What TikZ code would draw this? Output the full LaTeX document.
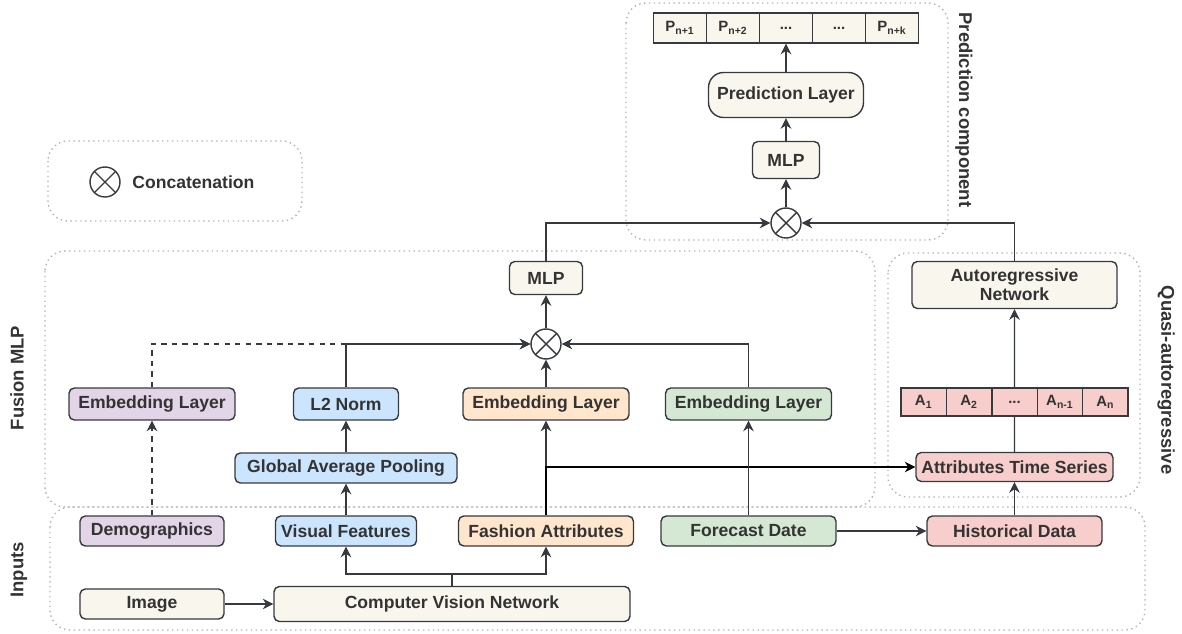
\documentclass[tikz,border=0pt]{standalone}
\usepackage{fontspec}
\setmainfont{Liberation Sans}
\usetikzlibrary{arrows.meta,positioning}

\definecolor{txtgray}{HTML}{333333}
\definecolor{edgegray}{HTML}{36393D}
\definecolor{framegray}{HTML}{B3B3B3}
\definecolor{creamfill}{HTML}{F9F7ED}
\definecolor{purplefill}{HTML}{E1D5E7}
\definecolor{bluefill}{HTML}{CCE5FF}
\definecolor{orangefill}{HTML}{FFE6CC}
\definecolor{greenfill}{HTML}{D5E8D4}
\definecolor{redfill}{HTML}{F8CECC}

\newcommand{\celldots}{...}

\tikzset{
  box/.style={draw=edgegray, line width=0.8pt, rounded corners=3pt, inner sep=0pt,
    font=\fontsize{10}{12}\selectfont\bfseries, text=txtgray, align=center},
  cell/.style={draw=edgegray, line width=0.8pt, inner sep=0pt, minimum height=0.6cm,
    font=\fontsize{8.5}{10}\selectfont\bfseries, text=txtgray},
  concat/.style={circle, draw=edgegray, line width=0.8pt, fill=white, minimum size=0.6cm, inner sep=0pt,
    path picture={\draw[edgegray, line width=0.8pt]
      (path picture bounding box.south west) -- (path picture bounding box.north east)
      (path picture bounding box.north west) -- (path picture bounding box.south east);}},
  group/.style={draw=framegray, line width=0.8pt, dotted, rounded corners=0.4cm},
  grouplabel/.style={font=\fontsize{10.5}{12}\selectfont\bfseries, text=txtgray},
  arr/.style={draw=edgegray, line width=0.8pt, -{Stealth[length=6pt,width=6pt]}},
  wire/.style={draw=edgegray, line width=0.8pt},
}

\begin{document}
\begin{tikzpicture}[x=0.02cm, y=-0.02cm]
  \useasboundingbox (0,0) rectangle (1182,634);

  % groups
  \draw[group] (626,3) rectangle (948,240);
  \draw[group] (48,141) rectangle (302,221);
  \draw[group] (45,251) rectangle (875,507);
  \draw[group] (888,253) rectangle (1140,497);
  \draw[group] (50,507) rectangle (1145,630);

  \node[grouplabel, rotate=-90] (predlbl)  at (964,110) {Prediction component};
  \node[grouplabel, rotate=90]  (fuslbl)   at (17,378)  {Fusion MLP};
  \node[grouplabel, rotate=-90] (quasilbl) at (1166,380) {Quasi-autoregressive};
  \node[grouplabel, rotate=90]  (inplbl)   at (19,570)  {Inputs};

  % legend
  \node[concat] (legcat) at (105,182) {};
  \node[box, draw=none, right=0.22cm of legcat] (legtxt) {Concatenation};

  % prediction component
  \foreach \i/\t in {1/P\textsubscript{n+1}, 2/P\textsubscript{n+2}, 3/\celldots, 4/\celldots, 5/P\textsubscript{n+k}}
    \node[cell, fill=creamfill, minimum width=1.06cm] (p\i) at (653.5+53*\i-26.5,28) {\t};
  \node[box, fill=creamfill, rounded corners=0.3cm, minimum width=3.1cm, minimum height=0.9cm] (predlayer) at (786,95) {Prediction Layer};
  \node[box, fill=creamfill, minimum width=1.34cm, minimum height=0.74cm] (mlptop) at (786,160) {MLP};
  \node[concat] (cattop) at (786,223) {};

  % fusion MLP
  \node[box, fill=creamfill, minimum width=1.46cm, minimum height=0.66cm] (mlpfus) at (546,278) {MLP};
  \node[concat] (catfus) at (546,344) {};
  \node[box, fill=purplefill, minimum width=3.32cm, minimum height=0.64cm] (embdemo) at (152,404) {Embedding Layer};
  \node[box, fill=bluefill, minimum width=2.1cm, minimum height=0.64cm] (l2) at (346,404) {L2 Norm};
  \node[box, fill=orangefill, minimum width=3.32cm, minimum height=0.64cm] (embfash) at (546,404) {Embedding Layer};
  \node[box, fill=greenfill, minimum width=3.32cm, minimum height=0.64cm] (embdate) at (748.5,404) {Embedding Layer};
  \node[box, fill=bluefill, minimum width=4.44cm, minimum height=0.6cm] (gap) at (346,468) {Global Average Pooling};

  % quasi-autoregressive
  \node[box, fill=creamfill, minimum width=4.1cm, minimum height=0.94cm] (arnet) at (1014.5,285) {Autoregressive\\[-1pt]Network};
  \foreach \i/\t in {1/A\textsubscript{1}, 2/A\textsubscript{2}, 3/\celldots, 4/A\textsubscript{n-1}, 5/A\textsubscript{n}}
    \node[cell, fill=redfill, minimum width=0.908cm, minimum height=0.56cm] (a\i) at (901+45.4*\i-22.7,402) {\t};
  \node[box, fill=redfill, minimum width=3.94cm, minimum height=0.58cm] (ats) at (1014.5,467) {Attributes Time Series};

  % inputs
  \node[box, fill=purplefill, minimum width=2.88cm, minimum height=0.6cm] (demo) at (152,531) {Demographics};
  \node[box, fill=bluefill, minimum width=2.82cm, minimum height=0.6cm] (visual) at (346,531) {Visual Features};
  \node[box, fill=orangefill, minimum width=3.5cm, minimum height=0.6cm] (fashion) at (546,531) {Fashion Attributes};
  \node[box, fill=greenfill, minimum width=3.5cm, minimum height=0.6cm] (date) at (748.5,531) {Forecast Date};
  \node[box, fill=redfill, minimum width=3.5cm, minimum height=0.6cm] (hist) at (1014.5,531) {Historical Data};
  \node[box, fill=creamfill, minimum width=2.88cm, minimum height=0.6cm] (image) at (152,604) {Image};
  \node[box, fill=creamfill, minimum width=7.12cm, minimum height=0.7cm] (cvn) at (452,604) {Computer Vision Network};
  \coordinate (split) at (452,574);

  % connectors
  \draw[arr] (image) -- (cvn);
  \draw[wire] (cvn.north) -- (split);
  \draw[arr] (split) -| (visual.south);
  \draw[arr] (split) -| (fashion.south);
  \draw[arr, dashed] (demo) -- (embdemo);
  \draw[arr] (visual) -- (gap);
  \draw[arr] (gap) -- (l2);
  \draw[arr] (fashion) -- (embfash);
  \draw[arr, draw=black] (fashion.north) |- (ats.west);
  \draw[arr] (date) -- (embdate);
  \draw[arr] (date) -- (hist);
  \draw[arr] (hist) -- (ats);
  \draw[wire] (ats) -- (a3);
  \draw[arr] (a3) -- (arnet);

  \draw[arr] (l2.north) |- (catfus.west);
  \draw[arr, dashed] (embdemo.north) |- (catfus.west);
  \draw[arr] (embfash) -- (catfus);
  \draw[arr] (embdate.north) |- (catfus.east);
  \draw[arr] (catfus) -- (mlpfus);

  \draw[arr] (mlpfus.north) |- (cattop.west);
  \draw[arr] (arnet.north) |- (cattop.east);
  \draw[arr] (cattop) -- (mlptop);
  \draw[arr] (mlptop) -- (predlayer);
  \draw[arr] (predlayer) -- (p3);
\end{tikzpicture}
\end{document}
